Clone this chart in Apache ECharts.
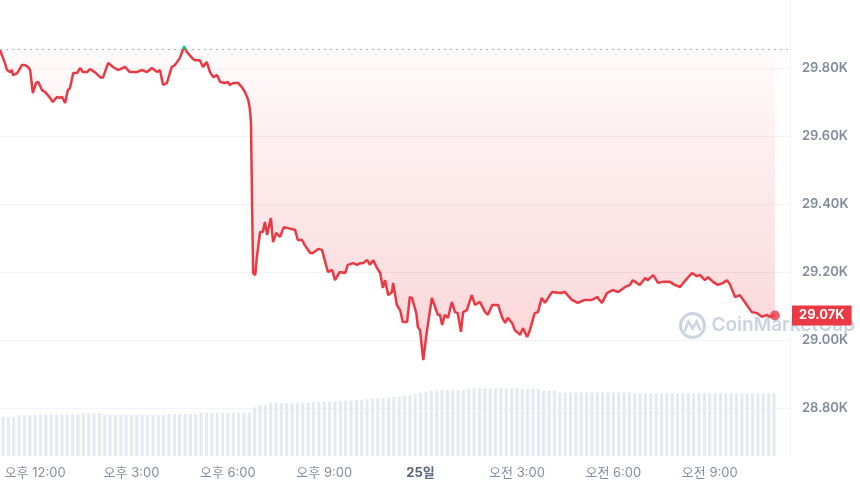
<!DOCTYPE html>
<html><head><meta charset="utf-8">
<script src="https://cdn.jsdelivr.net/npm/echarts@6/dist/echarts.min.js"></script>
<style>html,body{margin:0;padding:0;background:#fff}#c{width:860px;height:487px}</style>
</head><body><div id="c"></div>
<script>
const startTime = new Date(2023, 6, 24, 11, 0, 0).getTime();
const MIN = 60000;
const priceMinutes = [
  0,9,13,19,22,24,32,41,46,52,
  56,61,67,71,78,84,93,98,106,111,
  115,121,126,130,136,143,149,154,162,167,
  176,186,191,201,210,219,232,241,254,264,
  273,282,292,297,303,310,319,325,334,342,
  347,357,362,371,377,384,390,396,403,409,
  418,423,427,433,442,449,455,461,464,466,
  470,474,477,483,488,492,496,503,507,513,
  520,527,535,542,548,553,561,566,576,581,
  591,598,604,609,617,622,631,641,646,656,
  663,669,674,682,687,693,700,706,711,715,
  721,728,730,737,743,748,756,761,765,773,
  776,780,786,793,802,808,813,817,821,826,
  832,839,845,850,856,860,867,876,882,891,
  901,906,914,925,932,938,943,951,956,966,
  971,979,984,993,999,1006,1012,1025,1040,1049,
  1062,1073,1086,1099,1109,1118,1127,1138,1148,1161,
  1170,1175,1188,1198,1203,1213,1222,1231,1244,1253,
  1263,1272,1285,1294,1300,1309,1315,1324,1333,1343,
  1350,1356,1365,1374,1383,1396,1406,1415,1424,1430,
  1439
];
const priceValues = [
  29853,29815,29794,29788,29794,29779,29785,29809,29809,29803,
  29794,29726,29756,29759,29735,29729,29712,29700,29715,29712,
  29715,29697,29735,29741,29785,29785,29800,29788,29788,29797,
  29788,29773,29771,29815,29803,29794,29803,29788,29788,29794,
  29788,29800,29788,29794,29750,29756,29803,29809,29829,29864,
  29847,29829,29823,29823,29803,29818,29788,29773,29779,29759,
  29756,29759,29750,29756,29756,29744,29729,29706,29680,29640,
  29197,29191,29244,29318,29318,29347,29309,29359,29288,29315,
  29303,29332,29329,29326,29324,29294,29294,29279,29256,29256,
  29268,29265,29229,29200,29206,29176,29200,29197,29221,29226,
  29221,29226,29226,29235,29221,29235,29212,29197,29153,29176,
  29132,29141,29168,29103,29088,29053,29053,29126,29124,29079,
  29038,29029,28941,29029,29124,29097,29074,29074,29044,29074,
  29065,29112,29082,29079,29024,29082,29088,29132,29103,29112,
  29082,29074,29103,29103,29068,29050,29065,29050,29029,29015,
  29035,29009,29029,29079,29082,29124,29109,29141,29138,29141,
  29118,29109,29118,29118,29126,29109,29138,29147,29141,29156,
  29162,29176,29162,29182,29176,29191,29168,29171,29171,29162,
  29156,29174,29197,29188,29191,29176,29185,29171,29162,29168,
  29176,29162,29126,29132,29112,29082,29079,29068,29074,29068,
  29072
];
const baselinePrice = 29855;
const volumeStepMinutes = 10;
const volumeValues = [
  9.8,9.8,9.8,10.2,10.2,10.2,10.3,
  10.4,10.4,10.4,10.4,10.4,10.4,10.4,10.4,
  10.7,10.7,10.7,10.7,
  10.25,10.25,10.25,10.25,10.25,10.25,10.25,10.25,10.25,10.25,10.25,10.25,
  10.5,10.5,10.5,10.5,10.5,10.5,
  10.8,10.8,10.8,10.8,10.8,10.8,10.8,10.8,10.8,10.8,
  12.2,12.7,12.7,
  13.2,13.2,13.2,13.2,13.2,13.2,
  13.4,13.4,13.5,13.5,13.6,13.6,13.7,13.7,13.8,
  13.9,14.0,14.1,14.2,14.3,14.4,14.5,14.6,14.7,
  14.8,15.0,15.2,15.5,15.8,16.1,
  16.3,16.4,16.5,16.5,16.5,16.5,16.6,
  16.9,16.9,16.9,16.9,16.9,16.9,16.9,16.9,16.9,16.9,
  16.75,16.75,16.75,16.75,
  16.3,16.3,16.3,
  15.9,15.9,15.9,15.9,15.9,15.9,15.9,15.9,15.9,15.9,15.9,15.9,15.9,15.9,
  15.7,15.7,15.7,15.7,15.7,15.7,15.7,15.7,15.7,15.7,15.7,15.7,15.7,15.7,
  15.7,15.7,15.7,15.7,15.7,15.7,15.7,15.7,15.7,15.7,15.7,15.7,15.7
];
const xTickLabels = ['오후 12:00','오후 3:00','오후 6:00','오후 9:00','25일','오전 3:00','오전 6:00','오전 9:00'];
const lastPriceLabel = '29.07K';
const axisEndMinutes = 1467;

const FONT = 'Inter, "Noto Sans CJK KR", sans-serif';
const RED = '#ea3943', GREEN = '#16c784';
const priceData = priceMinutes.map((m, i) => [startTime + m * MIN, priceValues[i]]);
const volumeData = volumeValues.map((v, i) => [startTime + i * volumeStepMinutes * MIN, v]);
const lastPoint = priceData[priceData.length - 1];
const xMin = startTime, xMax = startTime + axisEndMinutes * MIN;
const firstTick = startTime + 60 * MIN, tickStep = 180 * MIN, HOUR = 60 * MIN;

const chart = echarts.init(document.getElementById('c'), null, {renderer: 'canvas'});
chart.setOption({
  animation: false,
  backgroundColor: '#ffffff',
  grid: [
    {left: 0, right: 70, top: 0, bottom: 79},
    {left: 0, right: 70, top: 336, bottom: 31}
  ],
  xAxis: [
    {type: 'time', gridIndex: 0, min: xMin, max: xMax, show: true,
     axisLine: {show: false}, axisTick: {show: false}, axisLabel: {show: false}, splitLine: {show: false}},
    {type: 'time', gridIndex: 1, min: xMin, max: xMax, splitNumber: 24, minInterval: HOUR, maxInterval: HOUR,
     axisLine: {show: false}, axisTick: {show: false}, splitLine: {show: false},
     axisLabel: {
       showMinLabel: false, showMaxLabel: false, margin: 11, hideOverlap: false,
       fontFamily: FONT, fontSize: 13, color: '#858ca2',
       formatter: function (v) {
         const off = v - firstTick;
         if (off < 0 || off % tickStep !== 0) return '';
         const t = xTickLabels[off / tickStep] || '';
         return t.endsWith('일') ? '{b|' + t + '}' : t;
       },
       rich: {b: {fontFamily: FONT, fontSize: 13, fontWeight: 'bold', color: '#58667e'}}
     }}
  ],
  yAxis: [
    {type: 'value', gridIndex: 0, position: 'right', min: 28800, max: 30000, interval: 200,
     axisLine: {show: true, lineStyle: {color: '#f1f3f6'}}, axisTick: {show: false},
     splitLine: {show: true, showMaxLine: false, lineStyle: {color: '#f1f3f6'}},
     axisLabel: {showMaxLabel: false, margin: 12, fontFamily: FONT, fontSize: 13, fontWeight: 600, color: '#808a9d',
       formatter: v => (v / 1000).toFixed(2) + 'K'}},
    {type: 'value', gridIndex: 1, position: 'right', min: 0, max: 30,
     axisLine: {show: true, lineStyle: {color: '#f1f3f6'}}, axisTick: {show: false},
     axisLabel: {show: false}, splitLine: {show: false}}
  ],
  visualMap: {
    show: false, type: 'piecewise', seriesIndex: 0, dimension: 1,
    pieces: [
      {gte: 20000, lt: baselinePrice, color: RED},
      {gte: baselinePrice, lte: 40000, color: GREEN}
    ]
  },
  graphic: [{
    type: 'group', left: 678, top: 311, silent: true,
    children: [
      {type: 'circle', shape: {cx: 14, cy: 14, r: 12}, style: {fill: 'none', stroke: '#cad3e0', lineWidth: 3}},
      {type: 'polyline', shape: {points: [[6, 20], [10, 10], [14, 17], [18, 10], [22, 19]]}, style: {fill: 'none', stroke: '#cad3e0', lineWidth: 2.5}},
      {type: 'text', x: 33, y: 14, style: {text: 'CoinMarketCap', font: '600 19px Inter, sans-serif', fill: '#cad3e0', verticalAlign: 'middle'}}
    ]
  }],
  series: [
    {
      type: 'line', xAxisIndex: 0, yAxisIndex: 0, data: priceData,
      showSymbol: false, smooth: false, z: 3, clip: false,
      lineStyle: {width: 2.5},
      areaStyle: {
        origin: baselinePrice,
        color: new echarts.graphic.LinearGradient(0, 0, 0, 1, [
          {offset: 0, color: 'rgba(234,57,67,0.03)'},
          {offset: 1, color: 'rgba(234,57,67,0.30)'}
        ])
      },
      markLine: {
        silent: true, symbol: ['none', 'none'],
        data: [
          {yAxis: baselinePrice, lineStyle: {type: [2, 4], color: '#a6b0c3', width: 1}, label: {show: false}},
          {yAxis: lastPoint[1], lineStyle: {width: 0, color: 'rgba(0,0,0,0)'}, label: {
            show: true, position: 'end', distance: 2, formatter: lastPriceLabel,
            backgroundColor: RED, color: '#ffffff', fontFamily: FONT, fontSize: 13, fontWeight: 'bold',
            padding: [4, 7, 3, 7], opacity: 1
          }}
        ]
      }
    },
    {
      type: 'scatter', xAxisIndex: 0, yAxisIndex: 0, data: [lastPoint],
      symbolSize: 10, itemStyle: {color: RED}, z: 4
    },
    {
      type: 'bar', xAxisIndex: 1, yAxisIndex: 1, data: volumeData,
      barWidth: 3.2, itemStyle: {color: '#e6eaf0'}, z: 1
    }
  ]
});
</script></body></html>
